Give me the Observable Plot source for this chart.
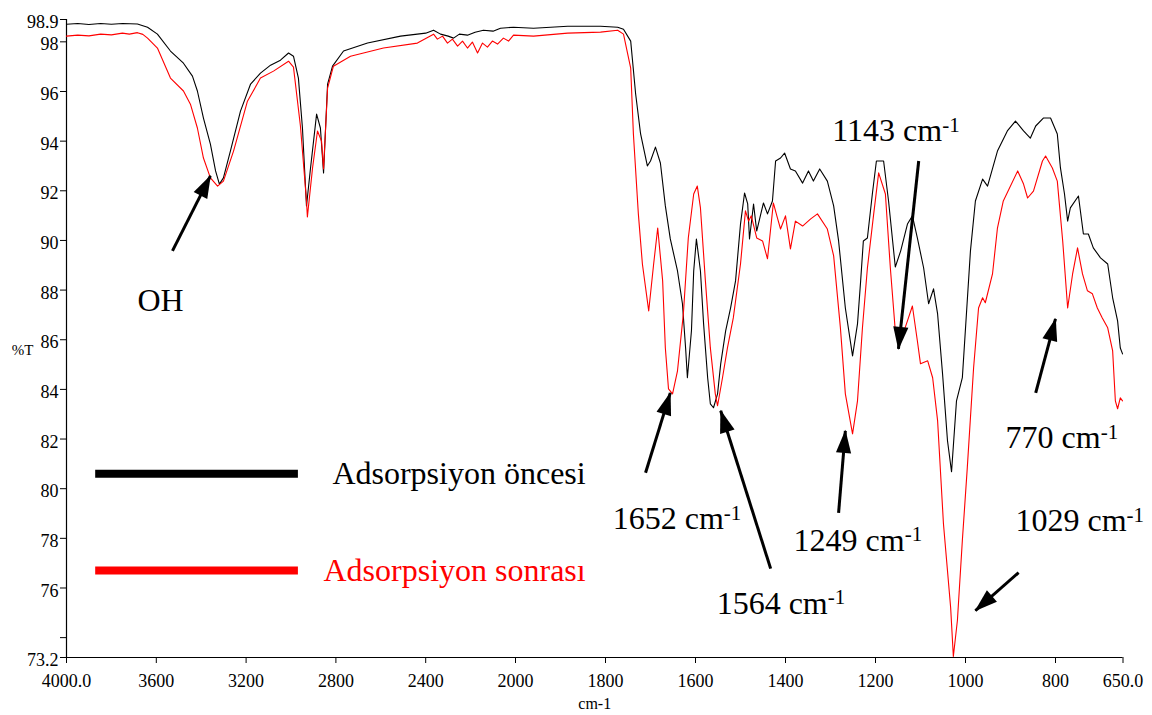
<!DOCTYPE html>
<html>
<head>
<meta charset="utf-8">
<script src="https://cdn.jsdelivr.net/npm/d3@7"></script>
<script src="https://cdn.jsdelivr.net/npm/@observablehq/plot@0.6"></script>
<style>
  html, body { margin: 0; padding: 0; background: #fff; }
  #chart svg { display: block; }
  #chart svg, #chart svg g, #chart svg text, #chart svg tspan { font-family: 'Liberation Serif', 'Times New Roman', Times, serif !important; }
</style>
</head>
<body>
<div id="chart"></div>
<script>
// FTIR spectra: [wavenumber (cm-1), %T]
const before = [[4000,98.71],[3950,98.74],[3900,98.70],[3848,98.74],[3800,98.71],[3750,98.74],[3684,98.72],[3639,98.59],[3595,98.31],[3537,97.63],[3479,97.14],[3439,96.62],[3417,96.02],[3390,94.93],[3359,93.88],[3336,92.80],[3319,92.27],[3301,92.52],[3270,93.60],[3225,95.21],[3180,96.30],[3136,96.74],[3091,97.06],[3047,97.26],[3011,97.55],[2989,97.42],[2967,96.54],[2949,94.53],[2931,91.39],[2913,92.92],[2886,95.09],[2869,94.53],[2855,92.72],[2837,96.30],[2815,97.02],[2766,97.63],[2659,97.95],[2512,98.23],[2400,98.35],[2365,98.47],[2334,98.31],[2300,98.23],[2276,98.15],[2250,98.31],[2214,98.27],[2180,98.39],[2143,98.47],[2100,98.43],[2067,98.55],[2009,98.59],[1960,98.55],[1884,98.63],[1811,98.63],[1773,98.59],[1760,98.51],[1744,98.03],[1733,95.90],[1722,94.29],[1707,93.00],[1700,93.20],[1689,93.76],[1678,93.12],[1667,91.39],[1656,90.06],[1640,88.77],[1629,87.45],[1622,85.67],[1618,84.47],[1609,86.36],[1604,88.77],[1598,90.06],[1589,88.77],[1582,86.64],[1573,84.47],[1567,83.42],[1560,83.26],[1551,83.82],[1544,85.03],[1533,86.36],[1522,87.28],[1511,88.37],[1500,90.66],[1491,91.91],[1484,91.47],[1480,90.06],[1471,91.47],[1464,90.38],[1449,91.51],[1440,91.07],[1429,91.59],[1422,93.20],[1411,93.32],[1402,93.52],[1389,92.88],[1378,92.80],[1362,92.31],[1349,92.80],[1338,92.39],[1324,92.88],[1307,92.39],[1293,91.39],[1282,89.98],[1267,87.28],[1251,85.35],[1240,86.64],[1233,88.37],[1227,89.98],[1218,90.10],[1207,91.87],[1198,93.20],[1182,93.20],[1171,91.59],[1156,88.93],[1144,89.58],[1129,90.66],[1118,90.99],[1107,90.10],[1093,88.89],[1082,87.45],[1071,88.05],[1062,87.04],[1051,84.63],[1040,81.93],[1031,80.68],[1020,83.54],[1007,84.47],[989,89.58],[978,91.59],[962,92.47],[951,92.19],[929,93.60],[907,94.41],[889,94.81],[871,94.41],[856,94.12],[844,94.61],[827,94.93],[811,94.93],[796,94.29],[789,92.92],[780,91.87],[773,90.78],[767,91.31],[749,91.79],[738,90.26],[727,90.26],[716,89.70],[700,89.30],[684,89.05],[673,87.69],[662,86.76],[656,85.67],[651,85.43]];

const after = [[4000,98.23],[3950,98.27],[3900,98.24],[3848,98.31],[3800,98.28],[3751,98.35],[3720,98.31],[3684,98.37],[3660,98.30],[3639,98.15],[3595,97.75],[3537,96.54],[3479,96.02],[3448,95.49],[3417,94.53],[3390,93.32],[3359,92.52],[3327,92.19],[3301,92.39],[3256,93.60],[3194,95.61],[3136,96.54],[3078,96.82],[3011,97.22],[2989,96.98],[2958,94.61],[2931,91.59],[2927,90.95],[2904,92.92],[2882,94.41],[2864,94.00],[2855,92.88],[2837,96.14],[2811,97.02],[2735,97.42],[2588,97.75],[2437,97.95],[2365,98.31],[2348,98.11],[2325,98.23],[2303,97.95],[2281,98.11],[2258,97.83],[2236,98.03],[2214,97.75],[2192,97.99],[2169,97.55],[2147,97.95],[2125,97.79],[2103,98.03],[2080,97.91],[2054,98.15],[2031,98.03],[2009,98.27],[1960,98.23],[1884,98.35],[1811,98.39],[1773,98.47],[1760,98.31],[1744,96.94],[1738,94.29],[1727,91.07],[1718,89.05],[1704,87.16],[1693,89.05],[1684,90.50],[1673,88.37],[1667,85.67],[1660,84.02],[1651,83.82],[1640,84.75],[1627,87.04],[1616,90.10],[1604,91.87],[1596,92.19],[1589,91.31],[1578,88.37],[1567,85.67],[1556,83.82],[1551,83.34],[1540,84.47],[1529,85.67],[1516,86.88],[1500,89.05],[1489,91.19],[1482,90.78],[1476,90.99],[1464,90.10],[1451,89.98],[1440,89.26],[1427,91.51],[1418,90.91],[1411,90.46],[1400,90.99],[1389,89.66],[1378,90.78],[1362,90.58],[1344,90.87],[1329,91.07],[1307,90.46],[1293,89.38],[1278,86.48],[1267,83.82],[1251,82.21],[1240,83.54],[1229,86.48],[1218,88.89],[1204,91.07],[1193,92.72],[1178,91.87],[1167,88.89],[1156,86.36],[1144,85.96],[1129,86.76],[1118,87.36],[1107,85.96],[1100,85.03],[1084,85.15],[1073,84.47],[1062,82.74],[1049,78.59],[1033,75.21],[1027,73.24],[1018,74.69],[1007,77.91],[996,80.85],[982,84.87],[971,87.28],[962,87.69],[956,87.49],[940,88.65],[929,90.50],[916,91.59],[884,92.80],[871,92.27],[862,91.71],[849,91.99],[829,93.20],[822,93.40],[807,92.92],[796,92.39],[784,89.98],[773,87.28],[762,88.65],[751,89.70],[740,88.65],[729,87.97],[718,87.85],[707,87.28],[696,86.88],[684,86.48],[673,85.55],[667,83.54],[662,83.22],[656,83.66],[651,83.54]];

// Axis ticks
const xTicks = [4000, 3600, 3200, 2800, 2400, 2000, 1800, 1600, 1400, 1200, 1000, 800, 650];
const xTickLabels = ["4000.0", "3600", "3200", "2800", "2400", "2000", "1800", "1600", "1400", "1200", "1000", "800", "650.0"];
const yTicks = [98.9, 98, 96, 94, 92, 90, 88, 86, 84, 82, 80, 78, 76, 74, 73.2];
const yTickLabels = ["98.9", "98", "96", "94", "92", "90", "88", "86", "84", "82", "80", "78", "76", "", "73.2"];

// Legend
const legendLabels = ["Adsorpsiyon öncesi", "Adsorpsiyon sonrası"];
const legendColors = ["#000000", "#ff0000"];
const legendT = [80.6, 76.7];
const legendLineWn = [3870, 2967];
const legendTextEndWn = 1844;

// Peak annotations (text start position and arrow in data units)
const annotLabels = ["OH", "1652 cm-1", "1564 cm-1", "1249 cm-1", "1143 cm-1", "770 cm-1", "1029 cm-1"];
const annotWn = [3684, 1784, 1553, 1382, 1296, 911, 889];
const annotT = [87.57, 78.79, 75.37, 77.91, 94.41, 82.05, 78.71];
const arrowFromWn = [3528, 1711, 1433, 1282, 1104, 844, 882];
const arrowFromT = [89.58, 80.64, 76.78, 79.03, 93.20, 83.86, 76.62];
const arrowToWn = [3359, 1656, 1544, 1267, 1149, 800, 978];
const arrowToT = [92.60, 83.86, 83.14, 82.33, 85.63, 86.84, 75.09];

const toRows = (arr) => arr.map(([wn, t]) => ({wn, t}));
const legendRows = legendLabels.map((label, i) => ({label, color: legendColors[i], t: legendT[i]}));
const annotRows = annotLabels.map((label, i) => ({label, wn: annotWn[i], t: annotT[i]}));
const arrowRows = annotLabels.map((label, i) => ({x1: arrowFromWn[i], y1: arrowFromT[i], x2: arrowToWn[i], y2: arrowToT[i]}));

const W = 1152, H = 715;
const mL = 66, mR = 29.5, mT = 19, mB = 58;
const serif = "'Liberation Serif', 'Times New Roman', Times, serif";

const chart = Plot.plot({
  width: W,
  height: H,
  marginLeft: mL,
  marginRight: mR,
  marginTop: mT,
  marginBottom: mB,
  style: {fontFamily: serif, fontSize: "18px", color: "#000", background: "#fff", overflow: "visible"},
  x: {
    type: "linear",
    domain: [4000, 2000, 650],
    range: [mL, 515, W - mR],
    ticks: xTicks,
    tickFormat: (d) => xTickLabels[xTicks.indexOf(d)],
    tickSize: 6,
    tickPadding: 11,
    label: null
  },
  y: {
    type: "linear",
    domain: [73.2, 98.9],
    ticks: yTicks,
    tickFormat: (d) => yTickLabels[yTicks.indexOf(d)],
    tickSize: 6,
    tickPadding: 2,
    label: null
  },
  marks: [
    Plot.ruleX([4000], {stroke: "#000", strokeWidth: 1.2}),
    Plot.ruleY([73.2], {stroke: "#000", strokeWidth: 1.2}),
    Plot.line(toRows(before), {x: "wn", y: "t", stroke: "#000000", strokeWidth: 1.1}),
    Plot.line(toRows(after), {x: "wn", y: "t", stroke: "#ff0000", strokeWidth: 1.1}),
    Plot.ruleY(legendRows, {y: "t", x1: legendLineWn[0], x2: legendLineWn[1], stroke: "color", strokeWidth: 8}),
    Plot.text(legendRows, {x: legendTextEndWn, y: "t", text: "label", fill: "color", textAnchor: "end", fontSize: 32}),
    Plot.link(arrowRows, {x1: "x1", y1: "y1", x2: "x2", y2: "y2", stroke: "#000", strokeWidth: 3, markerEnd: "arrow"}),
    Plot.text(annotRows, {x: "wn", y: "t", text: "label", textAnchor: "start", fontSize: 32, fill: "#000"}),
    Plot.text(["%T"], {frameAnchor: "left", dx: -44, dy: 12, textAnchor: "middle", fontSize: 15}),
    Plot.text(["cm-1"], {frameAnchor: "bottom", dy: 46, textAnchor: "middle", lineAnchor: "middle", fontSize: 16})
  ]
});

document.getElementById("chart").appendChild(chart);
chart.querySelectorAll("g").forEach((g) => { if (g.hasAttribute("font-family")) g.setAttribute("font-family", serif); });

// Filled triangular arrow heads
chart.querySelectorAll("marker").forEach((m) => {
  m.setAttribute("viewBox", "-12 -5 14 10");
  m.setAttribute("markerWidth", 9.333);
  m.setAttribute("markerHeight", 6.667);
  m.setAttribute("fill", "#000");
  m.setAttribute("stroke", "none");
  const p = m.querySelector("path");
  if (p) p.setAttribute("d", "M-11,-3.8L0.5,0L-11,3.8Z");
});

// Superscript "-1" on annotation labels
chart.querySelectorAll("text").forEach((t) => {
  const s = t.textContent;
  if (s.length > 4 && s.endsWith(" cm-1")) {
    t.textContent = s.slice(0, -2);
    const ts = document.createElementNS("http://www.w3.org/2000/svg", "tspan");
    ts.setAttribute("dy", "-0.45em");
    ts.setAttribute("font-size", "21");
    ts.textContent = "-1";
    t.appendChild(ts);
  }
});

// Y tick labels sit slightly above their ticks in the reference
chart.querySelectorAll('g[aria-label="y-axis tick label"] text, g[aria-label="y-axis"] text').forEach((t) => {
  t.setAttribute("dy", (parseFloat(getComputedStyle(t).fontSize) * 0.32 - 3) + "px");
});
</script>
</body>
</html>
